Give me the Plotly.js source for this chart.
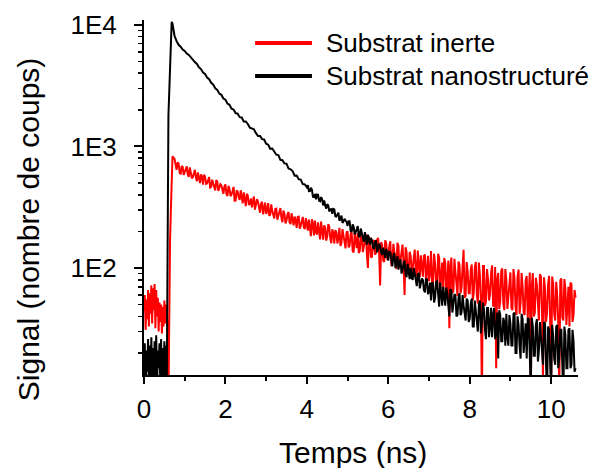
<!DOCTYPE html>
<html>
<head>
<meta charset="utf-8">
<script src="https://cdn.plot.ly/plotly-3.0.1.min.js"></script>
<style>html,body{margin:0;padding:0;background:#fff;}#chart{width:594px;height:468px;}</style>
</head>
<body>
<div id="chart"></div>
<script>
// Time axis (ns) for "Substrat inerte"
const time_inerte = [
0,0.02,0.04,0.06,0.08,0.1,0.12,0.14,0.16,0.18,0.2,0.22,0.24,0.26,0.28,0.3,0.32,0.34,0.36,0.38,0.4,0.42,0.44,0.46,0.48,0.5,0.52,0.54,
0.56,0.58,0.6,0.62,0.64,0.66,0.68,0.7,
0.75,0.775,0.8,0.825,0.85,0.875,0.9,0.925,0.95,0.975,
1,1.025,1.05,1.075,1.1,1.125,1.15,1.175,1.2,1.225,1.25,1.275,1.3,1.325,1.35,1.375,1.4,1.425,1.45,1.475,1.5,1.525,1.55,1.575,1.6,1.625,1.65,1.675,1.7,1.725,1.75,1.775,1.8,1.825,1.85,1.875,1.9,1.925,1.95,1.975,
2,2.025,2.05,2.075,2.1,2.125,2.15,2.175,2.2,2.225,2.25,2.275,2.3,2.325,2.35,2.375,2.4,2.425,2.45,2.475,2.5,2.525,2.55,2.575,2.6,2.625,2.65,2.675,2.7,2.725,2.75,2.775,2.8,2.825,2.85,2.875,2.9,2.925,2.95,2.975,
3,3.025,3.05,3.075,3.1,3.125,3.15,3.175,3.2,3.225,3.25,3.275,3.3,3.325,3.35,3.375,3.4,3.425,3.45,3.475,3.5,3.525,3.55,3.575,3.6,3.625,3.65,3.675,3.7,3.725,3.75,3.775,3.8,3.825,3.85,3.875,3.9,3.925,3.95,3.975,
4,4.025,4.05,4.075,4.1,4.125,4.15,4.175,4.2,4.225,4.25,4.275,4.3,4.325,4.35,4.375,4.4,4.425,4.45,4.475,4.5,4.525,4.55,4.575,4.6,4.625,4.65,4.675,4.7,4.725,4.75,4.775,4.8,4.825,4.85,4.875,4.9,4.925,4.95,4.975,
5,5.025,5.05,5.075,5.1,5.125,5.15,5.175,5.2,5.225,5.25,5.275,5.3,5.325,5.35,5.375,5.4,5.425,5.45,5.475,5.5,5.525,5.55,5.575,5.6,5.625,5.65,5.675,5.7,5.725,5.75,5.775,5.8,5.825,5.85,5.875,5.9,5.925,5.95,5.975,
6,6.025,6.05,6.075,6.1,6.125,6.15,6.175,6.2,6.225,6.25,6.275,6.3,6.325,6.35,6.375,6.4,6.425,6.45,6.475,6.5,6.525,6.55,6.575,6.6,6.625,6.65,6.675,6.7,6.725,6.75,6.775,6.8,6.825,6.85,6.875,6.9,6.925,6.95,6.975,
7,7.025,7.05,7.075,7.1,7.125,7.15,7.175,7.2,7.225,7.25,7.275,7.3,7.325,7.35,7.375,7.4,7.425,7.45,7.475,7.5,7.525,7.55,7.575,7.6,7.625,7.65,7.675,7.7,7.725,7.75,7.775,7.8,7.825,7.85,7.875,7.9,7.925,7.95,7.975,
8,8.025,8.05,8.075,8.1,8.125,8.15,8.175,8.2,8.225,8.25,8.275,8.3,8.325,8.35,8.375,8.4,8.425,8.45,8.475,8.5,8.525,8.55,8.575,8.6,8.625,8.65,8.675,8.7,8.725,8.75,8.775,8.8,8.825,8.85,8.875,8.9,8.925,8.95,8.975,
9,9.025,9.05,9.075,9.1,9.125,9.15,9.175,9.2,9.225,9.25,9.275,9.3,9.325,9.35,9.375,9.4,9.425,9.45,9.475,9.5,9.525,9.55,9.575,9.6,9.625,9.65,9.675,9.7,9.725,9.75,9.775,9.8,9.825,9.85,9.875,9.9,9.925,9.95,9.975,
10,10.025,10.05,10.075,10.1,10.125,10.15,10.175,10.2,10.225,10.25,10.275,10.3,10.325,10.35,10.375,10.4,10.425,10.45,10.475,10.5,10.525,10.55,10.575,10.6
];

// Substrat inerte (counts)
const inerte = [
44,60,31,55,38,66,33,62,42,72,35,68,45,74,32,66,40,57,30,52,36,50,29,48,33,54,35,50,
42,30,8,100,170,300,490,830,
790,680,641,739,721,612,589,690,678,583,622,650,685,587,563,672,620,547,561,615,642,556,518,611,564,499,589,566,485,585,562,492,498,525,559,459,465,532,501,466,435,529,514,431,451,489,480,443,408,468,488,406,
391,475,447,390,403,430,465,358,359,436,426,381,364,436,391,341,419,356,323,408,
395,331,337,374,315,353,387,302,327,368,350,298,285,337,351,277,323,345,279,295,
342,269,274,334,296,271,256,306,308,250,269,287,311,259,238,297,280,233,246,277,
289,237,230,282,257,224,265,247,214,263,265,211,223,245,263,216,209,257,233,203,
250,201,183,252,229,185,246,198,188,237,198,172,241,212,171,224,215,168,182,229,
220,175,160,208,194,159,205,196,159,175,214,152,162,209,184,157,145,197,200,148,
152,190,197,138,134,194,173,146,194,133,138,194,178,135,150,168,189,130,100,182,
163,122,124,164,170,129,133,171,177,134,72,163,155,115,112,169,160,117,126,151,
166,104,112,158,135,112,98,161,152,100,113,137,156,108,60,148,136,90,92,136,
126,92,99,120,142,94,85,139,115,84,127,95,85,126,129,79,91,126,78,92,
138,74,76,131,109,76,67,131,121,67,98,111,66,121,109,62,77,115,32,102,
122,62,65,119,93,70,59,113,106,62,69,103,141,57,59,112,94,62,62,96,
107,54,63,100,112,60,51,111,88,54,8,104,104,49,53,98,81,54,61,90,
105,49,49,102,15,81,91,46,54,95,99,51,45,98,80,46,58,82,92,47,
45,98,82,48,41,85,97,42,52,91,70,43,41,79,86,39,55,92,9,71,
91,40,43,83,72,43,37,89,85,46,12,84,67,36,43,73,86,39,10,85,
74,42,37,77,59,36,9,79,82,39,37,81,68,34,46,70,33,76,73,36,
41,66,57
];

// Time axis (ns) for "Substrat nanostructuré"
const time_nano = [
0,0.02,0.04,0.06,0.08,0.1,0.12,0.14,0.16,0.18,0.2,0.22,0.24,0.26,0.28,0.3,0.32,0.34,0.36,0.38,0.4,0.42,0.44,0.46,0.48,0.5,0.52,0.54,
0.56,0.58,0.6,0.62,0.64,0.66,0.68,0.7,
0.75,0.8,0.85,0.9,0.95,1,1.05,1.1,1.15,1.2,1.25,1.3,1.35,1.4,1.45,1.5,1.55,1.6,1.65,1.7,1.75,1.8,1.85,1.9,1.95,2,
2.05,2.1,2.15,2.2,2.25,2.3,2.35,2.4,2.45,2.5,2.55,2.6,2.65,2.7,2.75,2.8,2.85,2.9,2.95,3,
3.05,3.1,3.15,3.2,3.25,3.3,3.35,3.4,3.45,3.5,3.55,3.6,3.65,3.7,3.75,3.8,3.85,3.9,3.95,4,
4.025,4.05,4.075,4.1,4.125,4.15,4.175,4.2,4.225,4.25,4.275,4.3,4.325,4.35,4.375,4.4,4.425,4.45,4.475,4.5,4.525,4.55,4.575,4.6,4.625,4.65,4.675,4.7,4.725,4.75,4.775,4.8,4.825,4.85,4.875,4.9,4.925,4.95,4.975,5,
5.025,5.05,5.075,5.1,5.125,5.15,5.175,5.2,5.225,5.25,5.275,5.3,5.325,5.35,5.375,5.4,5.425,5.45,5.475,5.5,5.525,5.55,5.575,5.6,5.625,5.65,5.675,5.7,5.725,5.75,5.775,5.8,5.825,5.85,5.875,5.9,5.925,5.95,5.975,6,
6.025,6.05,6.075,6.1,6.125,6.15,6.175,6.2,6.225,6.25,6.275,6.3,6.325,6.35,6.375,6.4,6.425,6.45,6.475,6.5,6.525,6.55,6.575,6.6,6.625,6.65,6.675,6.7,6.725,6.75,6.775,6.8,6.825,6.85,6.875,6.9,6.925,6.95,6.975,7,
7.025,7.05,7.075,7.1,7.125,7.15,7.175,7.2,7.225,7.25,7.275,7.3,7.325,7.35,7.375,7.4,7.425,7.45,7.475,7.5,7.525,7.55,7.575,7.6,7.625,7.65,7.675,7.7,7.725,7.75,7.775,7.8,7.825,7.85,7.875,7.9,7.925,7.95,7.975,8,
8.025,8.05,8.075,8.1,8.125,8.15,8.175,8.2,8.225,8.25,8.275,8.3,8.325,8.35,8.375,8.4,8.425,8.45,8.475,8.5,8.525,8.55,8.575,8.6,8.625,8.65,8.675,8.7,8.725,8.75,8.775,8.8,8.825,8.85,8.875,8.9,8.925,8.95,8.975,9,
9.025,9.05,9.075,9.1,9.125,9.15,9.175,9.2,9.225,9.25,9.275,9.3,9.325,9.35,9.375,9.4,9.425,9.45,9.475,9.5,9.525,9.55,9.575,9.6,9.625,9.65,9.675,9.7,9.725,9.75,9.775,9.8,9.825,9.85,9.875,9.9,9.925,9.95,9.975,10,
10.025,10.05,10.075,10.1,10.125,10.15,10.175,10.2,10.225,10.25,10.275,10.3,10.325,10.35,10.375,10.4,10.425,10.45,10.475,10.5,10.525,10.55,10.575,10.6
];

// Substrat nanostructuré (counts)
const nano = [
12,24,9,21,14,26,10,23,11,27,13,22,9,25,12,28,10,21,15,24,11,26,9,22,13,25,10,23,
12,200,1800,2800,4400,6800,10600,10200,
8130,7340,6850,6620,6270,6110,5810,5660,5380,5230,4940,4770,4480,4330,4060,3940,3690,3570,3340,3230,3010,2920,2720,2660,2480,2420,
2250,2200,2040,2010,1880,1860,1740,1730,1600,1600,1531,1423,1408,1384,1286,1219,1220,1148,1141,1052,
1034,956,961,907,855,848,776,770,725,721,658,648,627,575,576,537,534,490,487,462,
481,429,430,458,439,385,384,406,367,402,400,358,354,383,369,327,359,329,308,335,
327,292,302,309,279,306,303,267,265,274,285,245,253,270,235,241,254,246,239,222,
243,243,202,198,228,218,189,197,210,221,184,180,211,197,180,164,197,180,156,188,
163,156,177,168,148,143,164,169,135,143,159,152,134,128,147,136,121,144,133,115,
136,135,109,103,127,133,100,108,125,97,112,118,90,96,110,115,89,84,108,96,
81,101,83,80,100,90,79,71,89,90,68,75,82,80,66,63,81,81,61,64,
76,54,75,76,52,57,77,78,54,48,76,63,49,70,54,49,69,62,49,40,
67,65,43,50,61,59,40,41,57,62,41,43,60,49,42,37,56,54,36,38,
51,56,33,33,54,45,35,30,50,54,29,35,52,46,31,26,47,47,27,33,
47,27,41,47,26,29,43,18,45,41,25,25,39,36,23,42,27,23,41,35,
23,23,42,43,20,20,40,34,23,18,42,38,20,30,35,18,39,38,18,10,
39,33,19,19,34,38,17,21,36,28,20,16,36,35,16,9,33,31,17,10,
34,28,18,16,33,34,15,18,31,31,16,9,33,28,15,15,31,32,15,16,31,25,14,15
];

const seriesNames = ['Substrat inerte', 'Substrat nanostructuré'];
const seriesColors = ['#ff0000', '#000000'];

const yMajorTicks = [100, 1000, 10000];
const yMajorLabels = ['1E2', '1E3', '1E4'];
const yMinorTicks = [20,30,40,50,60,70,80,90,200,300,400,500,600,700,800,900,2000,3000,4000,5000,6000,7000,8000,9000];
const xMajorTicks = [0, 2, 4, 6, 8, 10];
const xMinorTicks = [1, 3, 5, 7, 9];

const FONT = 'Liberation Sans, Arial, Helvetica, sans-serif';

const traces = [
  {x: time_inerte, y: inerte, type: 'scatter', mode: 'lines', name: seriesNames[0],
   line: {color: seriesColors[0], width: 2}, showlegend: false},
  {x: time_nano, y: nano, type: 'scatter', mode: 'lines', name: seriesNames[1],
   line: {color: seriesColors[1], width: 2}, showlegend: false}
];

const legendY = [0.935, 0.842];
const shapes = seriesNames.map((n, i) => ({
  type: 'line', xref: 'paper', yref: 'paper', x0: 0.256, x1: 0.387, y0: legendY[i], y1: legendY[i],
  line: {color: seriesColors[i], width: 4}
}));
const annotations = seriesNames.map((n, i) => ({
  text: n, xref: 'paper', yref: 'paper', x: 0.415, y: legendY[i], xanchor: 'left', yanchor: 'middle',
  showarrow: false, font: {family: FONT, size: 26, color: '#000'}
}));
annotations.push({
  text: 'Temps (ns)', xref: 'paper', yref: 'paper', x: 0.482, y: -0.217, xanchor: 'center', yanchor: 'middle',
  showarrow: false, font: {family: FONT, size: 30, color: '#000'}
});
annotations.push({
  text: 'Signal (nombre de coups)', xref: 'paper', yref: 'paper', x: -0.267, y: 0.411, xanchor: 'center', yanchor: 'middle',
  textangle: -90, showarrow: false, font: {family: FONT, size: 30, color: '#000'}
});

const layout = {
  width: 594, height: 468,
  margin: {l: 144, r: 16, t: 20, b: 93},
  paper_bgcolor: '#ffffff', plot_bgcolor: '#ffffff',
  font: {family: FONT, color: '#000'},
  showlegend: false,
  xaxis: {
    range: [0, 10.66], tickmode: 'array', tickvals: xMajorTicks,
    ticks: 'outside', ticklen: 7, tickwidth: 2, tickcolor: '#000',
    showline: true, linewidth: 2, linecolor: '#000', showgrid: false, zeroline: false,
    tickfont: {family: FONT, size: 26, color: '#000'}, ticklabelstandoff: 3,
    minor: {tickmode: 'array', tickvals: xMinorTicks, ticks: 'outside', ticklen: 4, tickwidth: 2, tickcolor: '#000', showgrid: false}
  },
  yaxis: {
    type: 'log', range: [1.12, 4.04], tickmode: 'array', tickvals: yMajorTicks, ticktext: yMajorLabels,
    ticks: 'outside', ticklen: 8, tickwidth: 2, tickcolor: '#000',
    showline: true, linewidth: 2, linecolor: '#000', showgrid: false, zeroline: false,
    tickfont: {family: FONT, size: 26, color: '#000'}, ticklabelstandoff: 12,
    minor: {tickmode: 'array', tickvals: yMinorTicks, ticks: 'outside', ticklen: 4, tickwidth: 1.5, tickcolor: '#000', showgrid: false}
  },
  shapes: shapes,
  annotations: annotations
};

Plotly.newPlot('chart', traces, layout, {displayModeBar: false, staticPlot: true});
</script>
</body>
</html>
